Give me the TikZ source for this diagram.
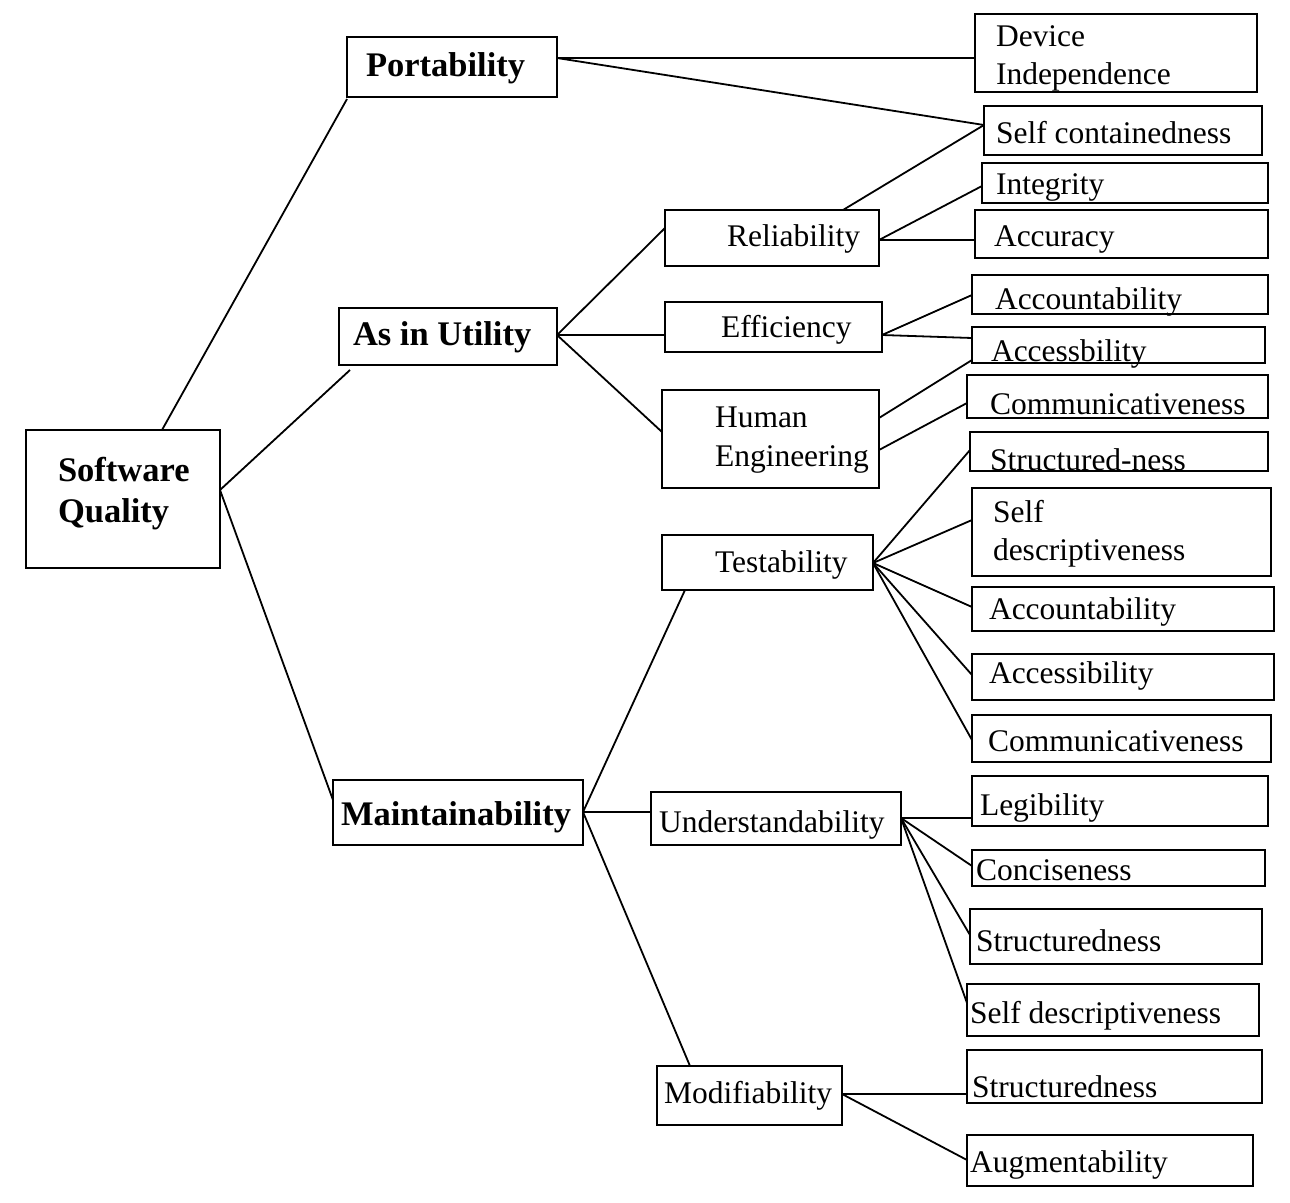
\documentclass[tikz,border=0pt]{standalone}
\usepackage{fontspec}
\setmainfont{Liberation Serif}
\begin{document}
\begin{tikzpicture}[x=1pt,y=-1pt,
  bx/.style={draw, line width=1.8pt, rectangle, inner sep=0pt, outer sep=0pt, anchor=north west},
  lbl/.style={inner sep=0pt, outer sep=0pt, anchor=base west, font=\fontsize{31.5}{38}\selectfont},
  blbl/.style={inner sep=0pt, outer sep=0pt, anchor=base west, font=\fontsize{34.5}{41}\selectfont\bfseries},
  ln/.style={line width=1.8pt}]
\newcommand{\boxat}[5]{\node[bx, minimum width={(#4-#2)*1pt}, minimum height={(#5-#3)*1pt}] (#1) at (#2,#3) {};}
\useasboundingbox (0,0) rectangle (1290,1202);
% ---- boxes ----
\boxat{sq}{26}{430}{220}{568}
\boxat{port}{347}{37}{557}{97}
\boxat{util}{339}{308}{557}{365}
\boxat{main}{333}{780}{583}{845}
\boxat{rel}{665}{210}{879}{266}
\boxat{eff}{665}{302}{882}{352}
\boxat{hum}{662}{390}{879}{488}
\boxat{test}{662}{535}{873}{590}
\boxat{und}{651}{792}{901}{845}
\boxat{mod}{657}{1066}{842}{1125}
\boxat{dev}{975}{14}{1257}{92}
\boxat{selfc}{984}{106}{1262}{155}
\boxat{integ}{982}{163}{1268}{203}
\boxat{accu}{975}{210}{1268}{258}
\boxat{acct}{972}{275}{1268}{314}
\boxat{accs}{972}{327}{1265}{363}
\boxat{comm}{967}{375}{1268}{418}
\boxat{strn}{970}{432}{1268}{471}
\boxat{sdesc}{972}{488}{1271}{576}
\boxat{acctb}{972}{587}{1274}{631}
\boxat{accsb}{972}{654}{1274}{700}
\boxat{commb}{972}{715}{1271}{762}
\boxat{leg}{972}{776}{1268}{826}
\boxat{conc}{972}{850}{1265}{886}
\boxat{strc}{970}{909}{1262}{964}
\boxat{sdescb}{967}{984}{1259}{1036}
\boxat{strm}{967}{1050}{1262}{1103}
\boxat{augm}{967}{1135}{1253}{1186}
% ---- labels ----
\node[blbl] (t-sq1) at (58,481) {Software};
\node[blbl] (t-sq2) at (58,522) {Quality};
\node[blbl] (t-port) at (366,76) {Portability};
\node[blbl] (t-util) at (353,345) {As in Utility};
\node[blbl] (t-main) at (341,825) {Maintainability};
\node[lbl] (t-rel) at (727,246) {Reliability};
\node[lbl] (t-eff) at (721,337) {Efficiency};
\node[lbl] (t-hum1) at (715,427) {Human};
\node[lbl] (t-hum2) at (715,466) {Engineering};
\node[lbl] (t-test) at (715,572) {Testability};
\node[lbl] (t-und) at (659,832) {Understandability};
\node[lbl] (t-mod) at (664,1103) {Modifiability};
\node[lbl] (t-dev1) at (996,46) {Device};
\node[lbl] (t-dev2) at (996,84) {Independence};
\node[lbl] (t-selfc) at (996,143) {Self containedness};
\node[lbl] (t-integ) at (996,194) {Integrity};
\node[lbl] (t-accu) at (994,246) {Accuracy};
\node[lbl] (t-acct) at (995,309) {Accountability};
\node[lbl] (t-accs) at (991,361) {Accessbility};
\begin{scope}
\clip (967,370) rectangle (1248,425);
\node[lbl] (t-comm) at (990,414) {Communicativeness};
\end{scope}
\node[lbl] (t-strn) at (990,470) {Structured-ness};
\node[lbl] (t-sdesc1) at (993,522) {Self};
\node[lbl] (t-sdesc2) at (993,560) {descriptiveness};
\node[lbl] (t-acctb) at (989,619) {Accountability};
\node[lbl] (t-accsb) at (989,683) {Accessibility};
\node[lbl] (t-commb) at (988,751) {Communicativeness};
\node[lbl] (t-leg) at (980,815) {Legibility};
\node[lbl] (t-conc) at (976,880) {Conciseness};
\node[lbl] (t-strc) at (976,951) {Structuredness};
\node[lbl] (t-sdescb) at (970,1023) {Self descriptiveness};
\node[lbl] (t-strm) at (972,1097) {Structuredness};
\node[lbl] (t-augm) at (970,1172) {Augmentability};
% ---- connectors ----
\draw[ln] ([xshift=136pt]sq.north west) -- ([yshift=-2pt]port.south west);
\draw[ln] ([yshift=-60pt]sq.north east) -- ([xshift=11pt,yshift=-5pt]util.south west);
\draw[ln] ([yshift=-60pt]sq.north east) -- ([yshift=-20pt]main.north west);
\draw[ln] ([yshift=-21pt]port.north east) -- ([yshift=-44pt]dev.north west);
\draw[ln] ([yshift=-21pt]port.north east) -- ([yshift=-19pt]selfc.north west);
\draw[ln] ([xshift=178pt]rel.north west) -- ([yshift=-19pt]selfc.north west);
\draw[ln] ([yshift=-27pt]util.north east) -- ([yshift=-18pt]rel.north west);
\draw[ln] ([yshift=-27pt]util.north east) -- ([yshift=-33pt]eff.north west);
\draw[ln] ([yshift=-27pt]util.north east) -- ([yshift=-42pt]hum.north west);
\draw[ln] ([yshift=-30pt]rel.north east) -- ([yshift=-23pt]integ.north west);
\draw[ln] ([yshift=-30pt]rel.north east) -- ([yshift=-30pt]accu.north west);
\draw[ln] ([yshift=-33pt]eff.north east) -- ([yshift=-20pt]acct.north west);
\draw[ln] ([yshift=-33pt]eff.north east) -- ([yshift=-11pt]accs.north west);
\draw[ln] ([yshift=-28pt]hum.north east) -- ([yshift=-33pt]accs.north west);
\draw[ln] ([yshift=-60pt]hum.north east) -- ([yshift=-28pt]comm.north west);
\draw[ln] ([yshift=-28pt]test.north east) -- ([yshift=-18pt]strn.north west);
\draw[ln] ([yshift=-28pt]test.north east) -- ([yshift=-32pt]sdesc.north west);
\draw[ln] ([yshift=-28pt]test.north east) -- ([yshift=-20pt]acctb.north west);
\draw[ln] ([yshift=-28pt]test.north east) -- ([yshift=-21pt]accsb.north west);
\draw[ln] ([yshift=-28pt]test.north east) -- ([yshift=-25pt]commb.north west);
\draw[ln] ([yshift=-32pt]main.north east) -- ([xshift=23pt]test.south west);
\draw[ln] ([yshift=-32pt]main.north east) -- ([yshift=-20pt]und.north west);
\draw[ln] ([yshift=-32pt]main.north east) -- ([xshift=33pt]mod.north west);
\draw[ln] ([yshift=-26pt]und.north east) -- ([yshift=-42pt]leg.north west);
\draw[ln] ([yshift=-26pt]und.north east) -- ([yshift=-16pt]conc.north west);
\draw[ln] ([yshift=-26pt]und.north east) -- ([yshift=-26pt]strc.north west);
\draw[ln] ([yshift=-26pt]und.north east) -- ([yshift=-19pt]sdescb.north west);
\draw[ln] ([yshift=-28pt]mod.north east) -- ([yshift=-44pt]strm.north west);
\draw[ln] ([yshift=-28pt]mod.north east) -- ([yshift=-25pt]augm.north west);
\end{tikzpicture}
\end{document}
